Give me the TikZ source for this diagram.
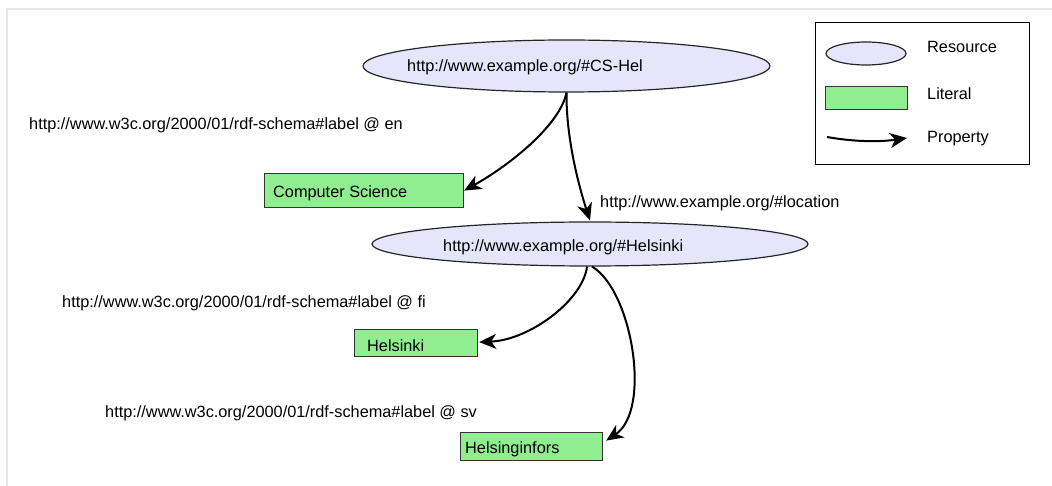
\documentclass[tikz,border=0pt]{standalone}
\usepackage{fontspec}
\setmainfont{Liberation Sans}
\usetikzlibrary{arrows.meta,shapes.geometric,calc}
\definecolor{resfill}{RGB}{230,230,250}
\definecolor{litfill}{RGB}{144,238,144}
\definecolor{framegray}{RGB}{232,232,232}
\begin{document}
\begin{tikzpicture}[x=1pt,y=-1pt,
  every node/.style={font=\fontsize{16.3}{19}\selectfont},
  resource/.style={ellipse, draw=black!85, line width=1.2pt, fill=resfill, inner sep=0pt},
  literal/.style={rectangle, draw=black!80, line width=1.2pt, fill=litfill, inner sep=0pt, anchor=north west},
  txt/.style={inner sep=0pt, anchor=base west},
  prop/.style={draw, line width=2pt, -{Stealth[length=17pt,width=15pt,inset=5pt]}},
]
\useasboundingbox (0,0) rectangle (1052,486);
% page frame
\draw[framegray, line width=2pt] (7,486) -- (7,9) -- (1052,9);

% resources
\node[resource, minimum width=407pt, minimum height=52pt] (csHel) at (566.5,66) {};
\node[txt] (csHelTxt) at (407,72) {http://www.example.org/\#CS-Hel};
\node[resource, minimum width=436pt, minimum height=44pt] (helsinki) at (590,244) {};
\node[txt] (helsinkiTxt) at (443,252) {http://www.example.org/\#Helsinki};

% literals
\node[literal, minimum width=199pt, minimum height=34pt] (compSci) at (264,173) {};
\node[txt] (compSciTxt) at (273,198) {Computer Science};
\node[literal, minimum width=123pt, minimum height=27pt] (helLit) at (354,329) {};
\node[txt] (helLitTxt) at (367,352) {Helsinki};
\node[literal, minimum width=142pt, minimum height=28pt] (hfors) at (460,432) {};
\node[txt] (hforsTxt) at (465,453) {Helsinginfors};

% properties
\draw[prop] (csHel.south) .. controls (560,125) and (510,165) .. (compSci.east);
\draw[prop] (csHel.south) .. controls (566,140) and (580,190) .. ($(helsinki.north)+(0,-1)$);
\draw[prop] ($(helsinki.south)+(-3,0)$) .. controls (583,300) and (530,340) .. ($(helLit.east)+(1,-1)$);
\draw[prop] ($(helsinki.south)+(2,0)$) .. controls (632,290) and (652,410) .. ($(hfors.east)+(3,-6)$);

% property labels
\node[txt] (lblEn) at (29,130) {http://www.w3c.org/2000/01/rdf-schema\#label @ en};
\node[txt] (lblLoc) at (600,208) {http://www.example.org/\#location};
\node[txt] (lblFi) at (62,308) {http://www.w3c.org/2000/01/rdf-schema\#label @ fi};
\node[txt] (lblSv) at (105,417) {http://www.w3c.org/2000/01/rdf-schema\#label @ sv};

% legend
\node[draw, line width=1.3pt, minimum width=214pt, minimum height=142pt, anchor=north west, inner sep=0pt] (legend) at (815,22) {};
\node[resource, minimum width=80pt, minimum height=23pt] (legRes) at (866,53.5) {};
\node[txt] (legResTxt) at (927,53) {Resource};
\node[literal, minimum width=82pt, minimum height=23pt] (legLit) at (825,86) {};
\node[txt] (legLitTxt) at (927,100) {Literal};
\coordinate (legA) at (827,137);
\coordinate (legB) at (907,138);
\draw[prop] (legA) .. controls (855,142) and (880,142) .. (legB);
\node[txt] (legPropTxt) at (927,143) {Property};
\end{tikzpicture}
\end{document}
